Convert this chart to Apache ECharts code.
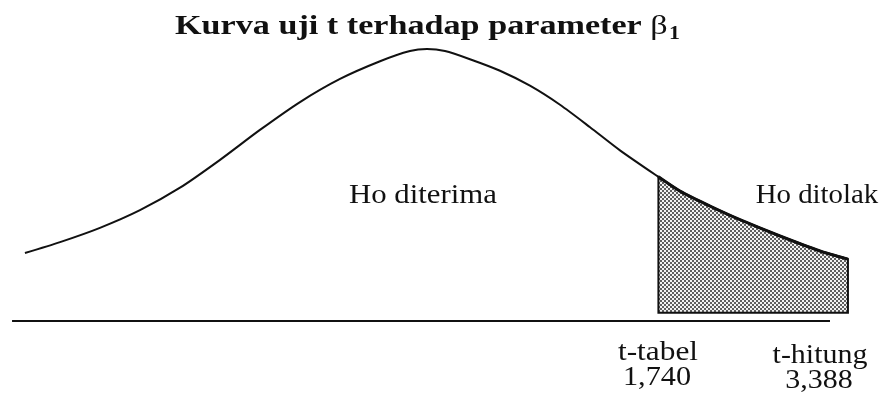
<!DOCTYPE html>
<html>
<head>
<meta charset="utf-8">
<script src="https://cdn.jsdelivr.net/npm/echarts@6/dist/echarts.min.js"></script>
<style>
  html, body { margin: 0; padding: 0; background: #fff; }
  #chart { width: 892px; height: 405px; }
</style>
</head>
<body>
<div id="chart"></div>
<script>
// curve: t on x, height on y
const curveT = [-3.023, -2.759, -2.459, -2.158, -1.857, -1.556, -1.256, -0.955, -0.654, -0.353,
  -0.128, 0, 0.135, 0.323, 0.549, 0.774, 1.0, 1.226, 1.451, 1.74,
  1.902, 2.128, 2.353, 2.654, 2.955, 3.165];
const curveY = [0.100, 0.116, 0.137, 0.163, 0.196, 0.237, 0.281, 0.322, 0.356, 0.382,
  0.397, 0.400, 0.397, 0.385, 0.368, 0.346, 0.318, 0.285, 0.251, 0.212,
  0.191, 0.169, 0.149, 0.125, 0.103, 0.091];

const tTabel = 1.74;        // left edge of the rejection area
const tailEnd = 3.165;      // right edge of the shaded box
const shadeBase = 0.012;    // box bottom sits a bit above the axis line
const axisT = [-3.12, 3.03];

const tTabelText = '1,740';
const tHitungText = '3,388';

// dithered grey like the scan
function makeDots() {
  const c = document.createElement('canvas');
  c.width = 4; c.height = 4;
  const ctx = c.getContext('2d');
  ctx.fillStyle = '#f2f2f2';
  ctx.fillRect(0, 0, 4, 4);
  ctx.fillStyle = '#5e5e5e';
  ctx.fillRect(0, 0, 2, 2);
  ctx.fillRect(2, 2, 2, 2);
  return c;
}

const curveData = curveT.map((t, i) => [t, curveY[i]]);
const tail = curveData.filter(p => p[0] >= tTabel);
const shadePoly = tail.concat([[tailEnd, shadeBase], [tTabel, shadeBase]]);

const chart = echarts.init(document.getElementById('chart'));

const serif = '"Liberation Serif", "DejaVu Serif", serif';

function label(text, x, y, sx) {
  return {
    type: 'text', x: x, y: y, scaleX: sx,
    style: { text: text, font: '28px ' + serif, fill: '#111', textAlign: 'center', textVerticalAlign: 'middle' }
  };
}

const option = {
  animation: false,
  backgroundColor: '#fff',
  grid: { left: 0, right: 0, top: 0, bottom: 0 },
  xAxis: { type: 'value', min: -3.21053, max: 3.49624, show: false },
  yAxis: { type: 'value', min: -0.12353, max: 0.47206, show: false },
  series: [
    {
      type: 'custom',
      silent: true,
      data: [0],
      renderItem: function (params, api) {
        const pts = shadePoly.map(p => api.coord(p));
        return {
          type: 'polygon',
          shape: { points: pts },
          style: {
            fill: { image: makeDots(), repeat: 'repeat' },
            stroke: '#111',
            lineWidth: 2
          }
        };
      },
      z: 1
    },
    {
      type: 'line',
      data: curveData,
      smooth: 0.25,
      symbol: 'none',
      lineStyle: { color: '#111', width: 2 },
      z: 3
    },
    {
      type: 'line',
      data: tail,
      smooth: 0.25,
      symbol: 'none',
      lineStyle: { color: '#111', width: 3 },
      z: 3
    },
    {
      type: 'line',
      data: axisT.map(t => [t, 0]),
      symbol: 'none',
      lineStyle: { color: '#111', width: 2 },
      z: 3
    }
  ],
  graphic: [
    {
      type: 'text', x: 175, y: 27, scaleX: 1.22,
      style: {
        text: '{t|Kurva uji t terhadap parameter }{b|β}{s|1}',
        textVerticalAlign: 'middle',
        rich: {
          t: { fontFamily: serif, fontSize: 28, fontWeight: 'bold', fill: '#111' },
          b: { fontFamily: serif, fontSize: 28, fill: '#111' },
          s: { fontFamily: serif, fontSize: 18, fontWeight: 'bold', fill: '#111', padding: [14, 0, 0, 1] }
        }
      }
    },
    label('Ho diterima', 423, 196, 1.1),
    label('Ho ditolak', 817, 196, 1.03),
    label('t-tabel', 658, 353, 1.12),
    label(tTabelText, 657, 378, 1.08),
    label('t-hitung', 820, 356, 1.07),
    label(tHitungText, 819, 381, 1.07)
  ]
};

chart.setOption(option);
</script>
</body>
</html>
